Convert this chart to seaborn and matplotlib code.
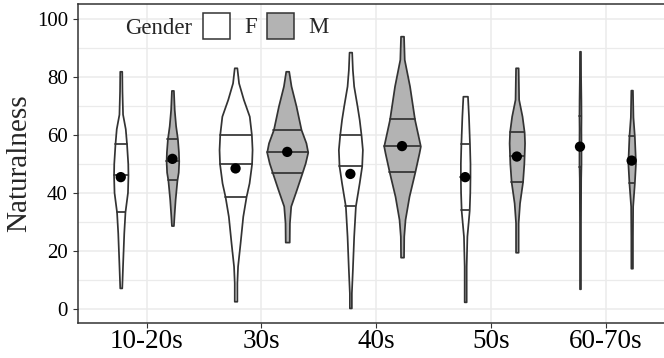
import numpy as np
import matplotlib
matplotlib.use("Agg")
import matplotlib.pyplot as plt
import seaborn as sns
from matplotlib.patches import Patch

# categories
groups = ["10-20s", "30s", "40s", "50s", "60-70s"]
genders = ["F", "M"]

# mean naturalness per group
mean_f = [45.3, 48.3, 46.4, 45.3, 55.8]
mean_m = [51.6, 54.0, 56.0, 52.4, 51.0]

# quartiles drawn inside the violins
q25_f = [33.3, 38.6, 35.3, 33.8, 48.9]
q50_f = [46.0, 49.9, 49.1, 45.5, 55.8]
q75_f = [56.6, 60.0, 59.7, 56.8, 66.3]
q25_m = [44.2, 46.8, 47.1, 43.7, 43.3]
q50_m = [51.0, 53.9, 56.0, 52.5, 51.0]
q75_m = [58.5, 61.7, 65.2, 60.8, 59.4]

# violin density profiles (value levels and density at each level)
levels_f = [
    [7.1, 15, 26, 33.3, 40, 46, 50, 56.6, 62, 67, 75, 81.8],
    [2.5, 8.9, 14.6, 22.6, 31.8, 38.6, 43.3, 49.9, 54.8, 60.0, 66.3, 72.1, 77.8, 83.0],
    [0.2, 5.4, 13.4, 24.9, 35.3, 43.3, 49.1, 54.8, 59.7, 65.2, 69.8, 76.7, 82.4, 88.4],
    [2.3, 14.6, 24.9, 33.8, 40, 45.3, 50.2, 56.8, 66.3, 73.2],
    [6.8, 30, 45, 50, 56, 62, 66, 72, 80, 88.7],
]
density_f = [
    [1.0, 1.8, 3.0, 4.2, 6.7, 7.2, 7.0, 5.8, 4.5, 1.8, 1.2, 1.0],
    [1.3, 1.3, 2.0, 4.5, 7.2, 10.5, 13.5, 16.0, 16.5, 15.8, 13.7, 7.8, 3.0, 1.3],
    [1.0, 1.0, 2.0, 3.3, 5.0, 8.8, 11.3, 12.0, 10.7, 8.8, 6.7, 3.3, 2.0, 1.3],
    [1.0, 1.0, 1.7, 4.0, 4.6, 4.8, 4.8, 4.3, 3.3, 2.3],
    [0.5, 0.5, 0.7, 1.0, 1.0, 0.9, 1.0, 0.9, 0.6, 0.5],
]
levels_m = [
    [28.6, 32, 37.6, 44.2, 47, 50.8, 54, 58.5, 63, 68.6, 75.2],
    [22.9, 29.6, 35.3, 41.0, 46.8, 50.2, 53.9, 57.1, 61.7, 69.8, 76.7, 81.8],
    [17.7, 24.9, 30.7, 38.7, 47.1, 53.7, 56.0, 65.2, 76.7, 85.9, 93.9],
    [19.4, 29.6, 36.4, 43.7, 50, 57.1, 60.8, 66.3, 72.1, 83.0],
    [13.9, 25, 35.3, 43.3, 50.2, 59.4, 66, 75.3],
]
density_m = [
    [1.0, 1.6, 2.7, 4.5, 5.8, 6.3, 6.0, 5.0, 3.2, 1.8, 1.0],
    [2.0, 2.2, 3.5, 9.2, 14.8, 18.0, 20.5, 18.7, 13.8, 8.8, 3.8, 1.5],
    [1.5, 1.7, 3.0, 7.0, 12.8, 17.0, 18.3, 12.5, 7.5, 2.2, 1.5],
    [1.3, 1.3, 2.7, 5.7, 7.0, 7.7, 7.3, 5.2, 1.8, 1.3],
    [0.8, 0.8, 1.0, 2.7, 3.8, 2.7, 1.3, 0.8],
]

FILLS = {"F": "white", "M": "#B3B3B3"}
EDGE = "#333333"
DODGE = 0.225
WIDTH_SCALE = 1 / 114.7

sns.set_theme(style="whitegrid")
plt.rcParams["font.family"] = ["Liberation Serif", "DejaVu Serif"]

fig = plt.figure(figsize=(6.64, 3.58), dpi=100)
ax = fig.add_axes([77.7 / 664, 35 / 358, 597 / 664, 319 / 358])


def draw_violin(ax, center, levels, density, quants, fill):
    lv = np.asarray(levels)
    hw = np.asarray(density) * WIDTH_SCALE
    ax.fill_betweenx(lv, center - hw, center + hw, facecolor=fill,
                     edgecolor=EDGE, linewidth=1.25, zorder=3)
    for q in quants:
        w = np.interp(q, lv, hw)
        ax.plot([center - w, center + w], [q, q], color=EDGE, lw=1.25, zorder=4)


x = np.arange(1, len(groups) + 1)
for i in range(len(groups)):
    draw_violin(ax, x[i] - DODGE, levels_f[i], density_f[i],
                [q25_f[i], q50_f[i], q75_f[i]], FILLS["F"])
    draw_violin(ax, x[i] + DODGE, levels_m[i], density_m[i],
                [q25_m[i], q50_m[i], q75_m[i]], FILLS["M"])

sns.scatterplot(x=np.concatenate([x - DODGE, x + DODGE]), y=mean_f + mean_m,
                color="black", s=55, edgecolor="none", zorder=5, ax=ax)

ax.set_xlim(0.4, 5.6)
ax.set_ylim(-5, 105)
ax.set_xticks(x)
ax.set_xticklabels(groups, fontsize=19.5)
ax.set_yticks(np.arange(0, 101, 20))
ax.set_yticks(np.arange(10, 100, 20), minor=True)
ax.tick_params(axis="y", labelsize=15, length=3.6, width=0.8, color=EDGE,
               pad=3.5, labelcolor="black")
ax.tick_params(axis="x", length=3.6, width=0.8, color=EDGE, pad=1,
               labelcolor="black")
ax.tick_params(which="both", direction="out", bottom=True, left=True)
ax.tick_params(which="minor", length=0)
ax.grid(which="major", color="#EBEBEB", linewidth=1.1)
ax.grid(which="minor", axis="y", color="#EBEBEB", linewidth=0.9)
ax.set_axisbelow(True)
ax.set_xlabel("")
ax.set_ylabel("Naturalness", fontsize=21, labelpad=3)
ax.set_facecolor("white")
for side in ["left", "bottom", "top"]:
    ax.spines[side].set_visible(True)
    ax.spines[side].set_color(EDGE)
    ax.spines[side].set_linewidth(1.1)
ax.spines["right"].set_visible(False)

handles = [Patch(facecolor=FILLS[g], edgecolor=EDGE, linewidth=1.1) for g in genders]
fig.text(125 / 664, 1 - 29 / 358, "Gender", fontsize=16.4, va="center", ha="left")
fig.legend(handles, genders, loc="upper left",
           bbox_to_anchor=(203 / 664, 1 - 13 / 358), ncol=2, frameon=False,
           fontsize=16.4, handlelength=1.2, handleheight=1.35,
           handletextpad=0.6, columnspacing=0.45, borderpad=0, borderaxespad=0)

fig.savefig("out.png", dpi=100)
